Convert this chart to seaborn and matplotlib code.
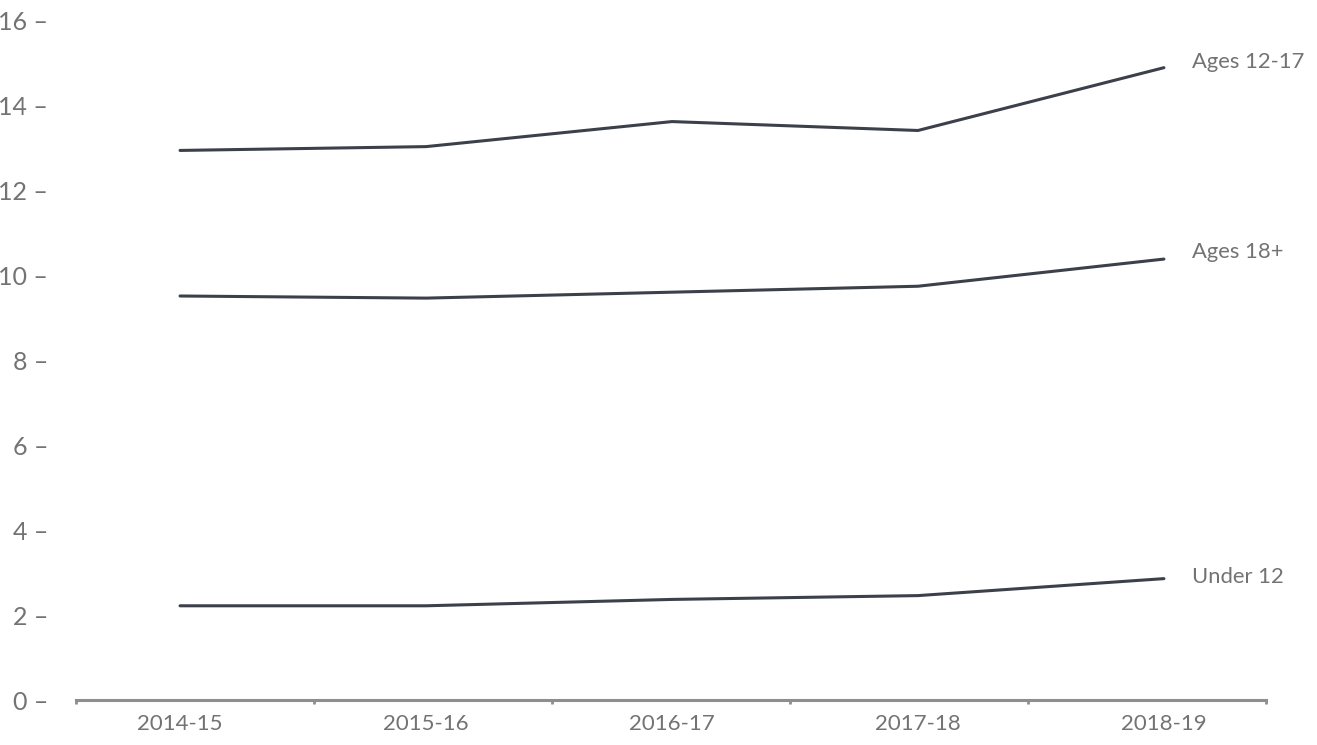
import matplotlib
matplotlib.use("Agg")
import matplotlib.pyplot as plt
import numpy as np
import pandas as pd
import seaborn as sns

years = ["2014-15", "2015-16", "2016-17", "2017-18", "2018-19"]
ages_12_17 = [12.95, 13.04, 13.63, 13.42, 14.90]
ages_18_plus = [9.52, 9.47, 9.61, 9.75, 10.39]
under_12 = [2.22, 2.22, 2.37, 2.46, 2.86]
series_names = ["Ages 12-17", "Ages 18+", "Under 12"]
y_ticks = [0, 2, 4, 6, 8, 10, 12, 14, 16]

LINE = "#3b404a"
GREY = "#737373"
AXIS = "#8e8e8e"

# long-form table for seaborn
df = pd.DataFrame({
    "x": list(range(len(years))) * 3,
    "value": ages_12_17 + ages_18_plus + under_12,
    "series": np.repeat(series_names, len(years)),
})

sns.set_style("white")
plt.rcParams["font.family"] = ["Lato", "DejaVu Sans"]

fig = plt.figure(figsize=(13.17, 7.45), dpi=100)
ax = fig.add_axes([76 / 1317, 45 / 745, 1190 / 1317, 679 / 745])

sns.lineplot(data=df, x="x", y="value", units="series", estimator=None,
             color=LINE, linewidth=2.2, ax=ax, legend=False)

# series labels at the right end of each line
label_offsets = {"Ages 12-17": 4, "Ages 18+": 5, "Under 12": 1}
for name, vals in zip(series_names, [ages_12_17, ages_18_plus, under_12]):
    ax.annotate(name, (len(years) - 1, vals[-1]), xytext=(20, label_offsets[name]),
                textcoords="offset points", va="center", ha="left",
                fontsize=15.8, color=GREY, annotation_clip=False)

# axes limits and ticks
x0, x1 = -0.423, 4.415
ax.set_xlim(x0, x1)
ax.set_ylim(0, 16)
ax.set_xticks(range(len(years)))
ax.set_xticklabels(years)
ax.set_xticks(np.linspace(x0, x1, len(years) + 1), minor=True)
ax.tick_params(axis="x", which="both", bottom=True)
ax.tick_params(axis="x", which="major", length=0, pad=10, labelsize=16, labelcolor=GREY)
ax.tick_params(axis="x", which="minor", length=3, width=2, color=AXIS, direction="out")

ax.set_yticks(y_ticks)
ax.set_yticklabels([f"{t} \u2013" for t in y_ticks])
ax.tick_params(axis="y", length=0, pad=20, labelsize=18, labelcolor=GREY)

for side in ["top", "right", "left"]:
    ax.spines[side].set_visible(False)
ax.spines["bottom"].set_color(AXIS)
ax.spines["bottom"].set_linewidth(2.2)
ax.set_xlabel("")
ax.set_ylabel("")
ax.grid(False)

plt.savefig("out.png", dpi=100)
plt.close()
